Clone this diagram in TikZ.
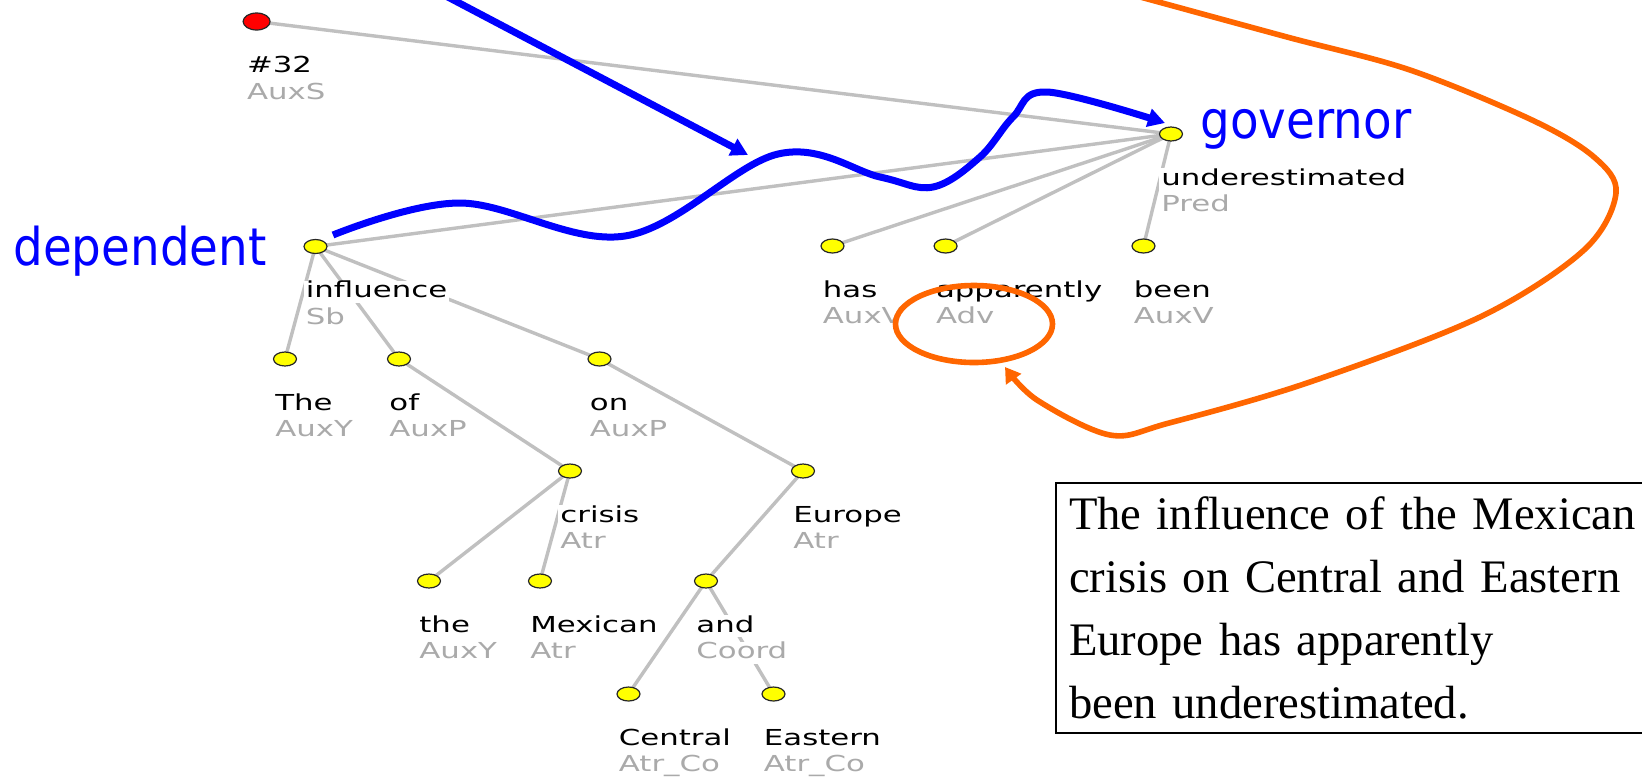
\documentclass[tikz,border=0pt]{standalone}
\usepackage{fontspec}
\setmainfont{Liberation Serif}
\newfontfamily\treefont[FakeStretch=1.4]{DejaVu Sans}
\newfontfamily\notefont[FakeStretch=0.9]{DejaVu Sans}
\usetikzlibrary{shapes.geometric,arrows.meta}
\setlength{\parindent}{0pt}
\pgfdeclarelayer{background}
\pgfsetlayers{background,main}

\definecolor{edgegray}{RGB}{192,192,192}
\definecolor{fungray}{RGB}{170,170,170}
\definecolor{nodeyellow}{RGB}{255,255,0}
\definecolor{rootred}{RGB}{255,0,0}
\definecolor{annoblue}{RGB}{0,0,255}
\definecolor{annoorange}{RGB}{255,102,0}

\tikzset{
  tnode/.style={ellipse, draw=black!85, line width=0.6pt, fill=nodeyellow,
    minimum width=11.5pt, minimum height=7pt, inner sep=0pt},
  rootnode/.style={tnode, fill=rootred, minimum width=13.5pt, minimum height=8.5pt},
  wordlbl/.style={anchor=base west, fill=white, inner xsep=1pt, inner ysep=0pt,
    text height=8.5pt, text depth=2.5pt,
    font=\treefont\fontsize{11}{13}\selectfont, text=black},
  funclbl/.style={wordlbl, text=fungray},
  treeedge/.style={draw=edgegray, line width=1.7pt},
  notelbl/.style={inner sep=0pt, text=annoblue,
    font=\notefont\fontsize{26}{30}\selectfont},
  bluearrow/.style={draw=annoblue, line width=3.5pt,
    -{Triangle[length=8.5pt,width=9pt]}},
  orangeline/.style={draw=annoorange, line width=2.8pt},
  orangearrow/.style={orangeline, -{Triangle[length=7.5pt,width=9pt]}},
  sentencebox/.style={draw=black, line width=1pt, anchor=north west,
    inner xsep=6.5pt, inner ysep=7pt, text width=300pt, align=left,
    font=\fontsize{23.3}{31.4}\selectfont}
}

% word form and analytical function printed under a tree node
\newcommand\treeword[3]{%
  \node[wordlbl] (#1-w) at ([shift={(-12,51)}]#1.center) {#2};
  \node[funclbl] (#1-f) at ([shift={(-12,77.5)}]#1.center) {#3};
}

\begin{document}
\begin{tikzpicture}[x=0.5pt, y=-0.5pt]
\useasboundingbox (0,0) rectangle (1642,778);

% dependency tree nodes
\node[rootnode] (root) at (256.6,21.5) {};
\node[tnode] (pred) at (1171,134) {};
\node[tnode] (infl) at (315.5,246.5) {};
\node[tnode] (has) at (832.5,246) {};
\node[tnode] (appar) at (945.6,246) {};
\node[tnode] (been) at (1143.5,246) {};
\node[tnode] (theA) at (285,359) {};
\node[tnode] (of) at (399,359) {};
\node[tnode] (on) at (599.5,359) {};
\node[tnode] (crisis) at (570,471) {};
\node[tnode] (europe) at (803,471) {};
\node[tnode] (theB) at (429,581) {};
\node[tnode] (mexican) at (540,581) {};
\node[tnode] (andc) at (706,581) {};
\node[tnode] (central) at (628.5,694) {};
\node[tnode] (eastern) at (773.5,694) {};

% labels
\treeword{root}{\#32}{AuxS}
\treeword{pred}{underestimated}{Pred}
\treeword{infl}{influence}{Sb}
\treeword{has}{has}{AuxV}
\treeword{appar}{apparently}{Adv}
\treeword{been}{been}{AuxV}
\treeword{theA}{The}{AuxY}
\treeword{of}{of}{AuxP}
\treeword{on}{on}{AuxP}
\treeword{crisis}{crisis}{Atr}
\treeword{europe}{Europe}{Atr}
\treeword{theB}{the}{AuxY}
\treeword{mexican}{Mexican}{Atr}
\treeword{andc}{and}{Coord}
\treeword{central}{Central}{Atr\_Co}
\treeword{eastern}{Eastern}{Atr\_Co}

% tree edges, behind the labels
\begin{pgfonlayer}{background}
  \fill[white] (0,0) rectangle (1642,778);
  \draw[treeedge] (root.center) -- (pred.center);
  \draw[treeedge] (pred.center) -- (infl.center);
  \draw[treeedge] (pred.center) -- (has.center);
  \draw[treeedge] (pred.center) -- (appar.center);
  \draw[treeedge] (pred.center) -- (been.center);
  \draw[treeedge] (infl.center) -- (theA.center);
  \draw[treeedge] (infl.center) -- (of.center);
  \draw[treeedge] (infl.center) -- (on.center);
  \draw[treeedge] (of.center) -- (crisis.center);
  \draw[treeedge] (crisis.center) -- (theB.center);
  \draw[treeedge] (crisis.center) -- (mexican.center);
  \draw[treeedge] (on.center) -- (europe.center);
  \draw[treeedge] (europe.center) -- (andc.center);
  \draw[treeedge] (andc.center) -- (central.center);
  \draw[treeedge] (andc.center) -- (eastern.center);
\end{pgfonlayer}

% dependent / governor annotation
\node[notelbl, anchor=base east] (dep) at (267,265) {dependent};
\node[notelbl, anchor=base west] (gov) at (1200,138) {governor};

\coordinate (wave0) at (333,235);
\coordinate (wave1) at (460,203);
\coordinate (wave2) at (625,236);
\coordinate (wave4) at (778,154);
\coordinate (wave5) at (880,177);
\coordinate (wave6) at (933,187);
\coordinate (wave7) at (980,157);
\coordinate (wave8) at (1013,117);
\coordinate (wave9) at (1047,92);
\coordinate (govtip) at (1165,123);
\draw[bluearrow] plot[smooth, tension=0.6] coordinates
  {(wave0) (wave1) (wave2) (wave4) (wave5) (wave6) (wave7) (wave8) (wave9) (govtip)};

\coordinate (ptrstart) at (444,-5);
\coordinate (ptrtip) at (748,155);
\draw[bluearrow] (ptrstart) -- (ptrtip);

% ring around the adverbial and the loop pointing at it
\node[ellipse, orangeline, minimum width=78.5pt, minimum height=38.5pt, inner sep=0pt]
  (advring) at (974,324) {};

\coordinate (loop0) at (1133,-5);
\coordinate (loop1) at (1287,37);
\coordinate (loop2) at (1410,70);
\coordinate (loop3) at (1532,120);
\coordinate (loop4) at (1594,157);
\coordinate (loop5) at (1616,193);
\coordinate (loop6) at (1584,250);
\coordinate (loop7) at (1480,317);
\coordinate (loop8) at (1307,383);
\coordinate (loop9) at (1169,423);
\coordinate (loop10) at (1110,435);
\coordinate (loop11) at (1037,400);
\coordinate (advtip) at (1005,367);
\draw[orangearrow] plot[smooth, tension=0.55] coordinates
  {(loop0) (loop1) (loop2) (loop3) (loop4) (loop5) (loop6) (loop7) (loop8) (loop9) (loop10) (loop11) (advtip)};

% the sentence
\node[sentencebox] (sentence) at (1055,482)
  {The influence of the Mexican\\crisis on Central and Eastern\\Europe has apparently\\been underestimated.};

\end{tikzpicture}
\end{document}
